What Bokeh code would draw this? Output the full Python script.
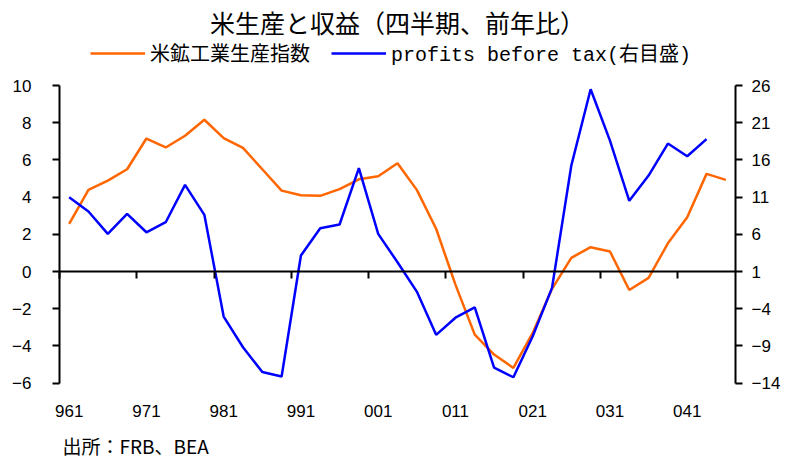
from bokeh.plotting import figure
from bokeh.models import (Range1d, LinearAxis, FixedTicker, Label, Legend,
                          LegendItem, ColumnDataSource)
from bokeh.embed import file_html
from bokeh.resources import INLINE

# ---- data -------------------------------------------------------------
quarters = [f"{y:02d}{q}" for y in (96, 97, 98, 99, 0, 1, 2, 3, 4) for q in (1, 2, 3, 4)][:35]

production = [2.56, 4.39, 4.89, 5.5, 7.15, 6.67, 7.3, 8.16, 7.17, 6.65,
              5.5, 4.35, 4.1, 4.07, 4.43, 4.96, 5.12, 5.82, 4.39, 2.3,
              -0.7, -3.39, -4.46, -5.18, -3.3, -0.93, 0.74, 1.31, 1.08, -0.99,
              -0.34, 1.52, 2.92, 5.25, 4.93]

profits = [11.0, 9.07, 6.07, 8.76, 6.28, 7.63, 12.65, 8.62, -5.05, -9.17,
           -12.5, -13.1, 3.15, 6.82, 7.32, 14.9, 6.07, 2.25, -1.69, -7.5,
           -5.2, -3.8, -11.9, -13.2, -7.7, -1.19, 15.25, 25.5, 18.6, 10.5,
           13.9, 18.2, 16.5, 18.8]

left_ticks = [-6, -4, -2, 0, 2, 4, 6, 8, 10]
right_ticks = [-14, -9, -4, 1, 6, 11, 16, 21, 26]

title_text = "米生産と収益（四半期、前年比）"
series_names = ["米鉱工業生産指数", "profits before tax(右目盛)"]
source_text = "出所：FRB、BEA"

# ---- layout (pixels) ---------------------------------------------------
W, H = 784, 458
PLOT_LEFT, PLOT_RIGHT = 59, 735
PLOT_TOP, PLOT_BOTTOM = 85, 382.7

# ---- derived ----------------------------------------------------------
n = len(quarters)
xs = list(range(n))
label_pos = [i for i, q in enumerate(quarters) if q.endswith("1")]
label_map = {i: quarters[i] for i in label_pos}
boundary = [i - 0.5 for i in label_pos]
x_lo, x_hi = -0.5, n - 0.5

lo, hi = left_ticks[0], left_ticks[-1]
rlo, rhi = right_ticks[0], right_ticks[-1]
upp_l = (hi - lo) / (PLOT_BOTTOM - PLOT_TOP)
upp_r = (rhi - rlo) / (PLOT_BOTTOM - PLOT_TOP)
upp_x = (x_hi - x_lo) / (PLOT_RIGHT - PLOT_LEFT)

src_p = ColumnDataSource(dict(x=xs, y=production))
src_b = ColumnDataSource(dict(x=xs[:len(profits)], y=profits))

ORANGE = "#FF6600"
BLUE = "#0000FF"
TICK_FONT = "Liberation Sans"

p = figure(width=W, height=H, title=None,
           x_range=Range1d(x_lo - PLOT_LEFT * upp_x, x_hi),
           y_range=Range1d(lo - (H - PLOT_BOTTOM) * upp_l, hi + PLOT_TOP * upp_l),
           output_backend="svg", toolbar_location=None,
           min_border_left=0, min_border_right=W - PLOT_RIGHT,
           min_border_top=0, min_border_bottom=0)
p.extra_y_ranges = {"right": Range1d(rlo - (H - PLOT_BOTTOM) * upp_r, rhi + PLOT_TOP * upp_r)}
p.outline_line_color = None
p.xgrid.visible = False
p.ygrid.visible = False
p.background_fill_color = "white"
p.border_fill_color = "white"

# category labels, placed under the plot area
xa = p.xaxis[0]
xa.fixed_location = lo
xa.ticker = FixedTicker(ticks=label_pos)
xa.major_label_overrides = label_map
xa.axis_line_color = None
xa.major_tick_line_color = None
xa.minor_tick_line_color = None
xa.major_label_standoff = 16
xa.major_label_text_font = TICK_FONT
xa.major_label_text_font_size = "17px"
xa.major_label_text_color = "black"

# zero line with category-boundary ticks
za = LinearAxis(fixed_location=0, ticker=FixedTicker(ticks=boundary),
                major_label_overrides={b: "" for b in boundary})
za.bounds = (x_lo, x_hi)
za.axis_line_width = 2
za.axis_line_color = "black"
za.major_tick_out = 7
za.major_tick_in = 0
za.major_tick_line_width = 2
za.minor_tick_line_color = None
za.major_label_text_font_size = "1px"
p.add_layout(za, "below")

# left axis
ya = p.yaxis[0]
ya.fixed_location = x_lo
ya.ticker = FixedTicker(ticks=left_ticks)
ya.bounds = (lo, hi)
ya.axis_line_width = 2
ya.axis_line_color = "black"
ya.major_tick_out = 7
ya.major_tick_in = 0
ya.major_tick_line_width = 2
ya.minor_tick_line_color = None
ya.major_label_standoff = 21
ya.major_label_text_font = TICK_FONT
ya.major_label_text_font_size = "17px"
ya.major_label_text_color = "black"

# right axis
ra = LinearAxis(y_range_name="right", ticker=FixedTicker(ticks=right_ticks))
ra.bounds = (rlo, rhi)
ra.axis_line_width = 2
ra.axis_line_color = "black"
ra.major_tick_out = 7
ra.major_tick_in = 0
ra.major_tick_line_width = 2
ra.minor_tick_line_color = None
ra.major_label_standoff = 9
ra.major_label_text_font = TICK_FONT
ra.major_label_text_font_size = "17px"
ra.major_label_text_color = "black"
p.add_layout(ra, "right")

r1 = p.line("x", "y", source=src_p, line_color=ORANGE, line_width=2.5)
r2 = p.line("x", "y", source=src_b, line_color=BLUE, line_width=2.5, y_range_name="right")

legend = Legend(items=[LegendItem(label=series_names[0], renderers=[r1]),
                       LegendItem(label=series_names[1], renderers=[r2])],
                location=(90, H - 67), orientation="horizontal",
                border_line_color=None, background_fill_alpha=0,
                padding=0, margin=0, spacing=21, label_standoff=5,
                glyph_width=55, glyph_height=20, label_height=20,
                label_text_font="Liberation Mono, Noto Sans CJK JP",
                label_text_font_size="20px", label_text_color="black")
p.add_layout(legend)

p.add_layout(Label(x=(PLOT_RIGHT + PLOT_LEFT) / 2, y=H - 21, x_units="screen", y_units="screen",
                   text=title_text, text_align="center", text_baseline="middle",
                   text_font="Noto Sans CJK JP", text_font_size="25px",
                   text_color="black"))
p.add_layout(Label(x=62, y=H - 445, x_units="screen", y_units="screen",
                   text=source_text, text_align="left", text_baseline="middle",
                   text_font="Noto Sans CJK JP", text_font_size="19px",
                   text_color="black"))

open("out.html", "w").write(file_html(p, INLINE))
